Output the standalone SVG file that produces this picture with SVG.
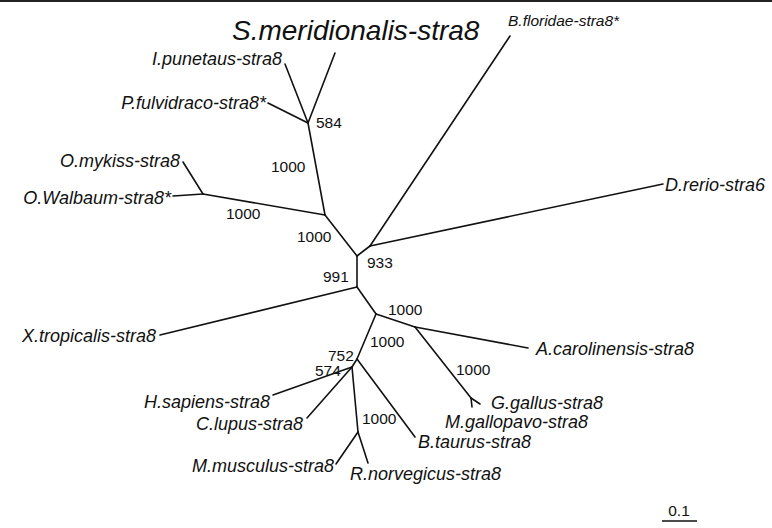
<svg xmlns="http://www.w3.org/2000/svg" width="772" height="528" viewBox="0 0 772 528">
<style>
.br{stroke:#111;stroke-width:1.6;fill:none;stroke-linecap:round;stroke-linejoin:round}
.sp{font-family:"Liberation Sans",Arial,sans-serif;font-style:italic;font-size:18px;fill:#111}
.bs{font-family:"Liberation Sans",Arial,sans-serif;font-size:15.5px;fill:#111}
</style>
<rect x="0" y="0" width="772" height="528" fill="#fff"/>
<line x1="0" y1="1" x2="772" y2="1" stroke="#222" stroke-width="2"/>
<g id="connectors">
<path class="br" d="M357,256 L357,287"/>
<path class="br" d="M357,256 L325,215"/>
<path class="br" d="M357,256 L370,246"/>
<path class="br" d="M370,246 L510,36"/>
<path class="br" d="M370,246 L663,184"/>
<path class="br" d="M325,215 L308,123"/>
<path class="br" d="M308,123 L285,64"/>
<path class="br" d="M308,123 L335,53"/>
<path class="br" d="M308,123 L268,103"/>
<path class="br" d="M325,215 L203,194"/>
<path class="br" d="M203,194 L183,162"/>
<path class="br" d="M203,194 L173,196"/>
<path class="br" d="M357,287 L160,335"/>
<path class="br" d="M357,287 L376,314"/>
<path class="br" d="M376,314 L415,327"/>
<path class="br" d="M415,327 L528,348"/>
<path class="br" d="M415,327 L471,398"/>
<path class="br" d="M471,398 L480,404"/>
<path class="br" d="M471,398 L472,407"/>
<path class="br" d="M376,314 L357,359"/>
<path class="br" d="M357,359 L415,437"/>
<path class="br" d="M357,359 L352,367"/>
<path class="br" d="M352,367 L273,395"/>
<path class="br" d="M352,367 L307,418"/>
<path class="br" d="M352,367 L358,432"/>
<path class="br" d="M358,432 L336,464"/>
<path class="br" d="M358,432 L368,463"/>
</g>
<g id="n-smeridionalis"><text class="sp" x="232" y="40" style="font-size:28px">S.meridionalis-stra8</text></g>
<g id="n-bfloridae"><text class="sp" x="508" y="26" style="font-size:15.5px">B.floridae-stra8*</text></g>
<g id="n-ipunetaus"><text class="sp" x="282" y="65" text-anchor="end">I.punetaus-stra8</text></g>
<g id="n-pfulvidraco"><text class="sp" x="266" y="109" text-anchor="end">P.fulvidraco-stra8*</text></g>
<g id="n-omykiss"><text class="sp" x="180" y="167" text-anchor="end">O.mykiss-stra8</text></g>
<g id="n-owalbaum"><text class="sp" x="171" y="204" text-anchor="end">O.Walbaum-stra8*</text></g>
<g id="n-drerio"><text class="sp" x="665" y="191">D.rerio-stra6</text></g>
<g id="n-xtropicalis"><text class="sp" x="156" y="342" text-anchor="end">X.tropicalis-stra8</text></g>
<g id="n-acarolinensis"><text class="sp" x="536" y="355">A.carolinensis-stra8</text></g>
<g id="n-ggallus"><text class="sp" x="491" y="409">G.gallus-stra8</text></g>
<g id="n-mgallopavo"><text class="sp" x="445" y="428">M.gallopavo-stra8</text></g>
<g id="n-btaurus"><text class="sp" x="418" y="448">B.taurus-stra8</text></g>
<g id="n-hsapiens"><text class="sp" x="270" y="408" text-anchor="end">H.sapiens-stra8</text></g>
<g id="n-clupus"><text class="sp" x="303" y="430" text-anchor="end">C.lupus-stra8</text></g>
<g id="n-mmusculus"><text class="sp" x="334" y="472" text-anchor="end">M.musculus-stra8</text></g>
<g id="n-rnorvegicus"><text class="sp" x="350" y="480">R.norvegicus-stra8</text></g>
<g id="bootstrap">
<text class="bs" x="316" y="128">584</text>
<text class="bs" x="271" y="172">1000</text>
<text class="bs" x="226" y="219">1000</text>
<text class="bs" x="297" y="242">1000</text>
<text class="bs" x="367" y="268">933</text>
<text class="bs" x="323" y="282">991</text>
<text class="bs" x="388" y="315">1000</text>
<text class="bs" x="370" y="347">1000</text>
<text class="bs" x="328" y="361">752</text>
<text class="bs" x="315" y="376">574</text>
<text class="bs" x="456" y="375">1000</text>
<text class="bs" x="362" y="424">1000</text>
</g>
<g id="scale">
<text class="bs" x="679" y="516" text-anchor="middle">0.1</text>
<line x1="662" y1="521" x2="697" y2="521" stroke="#111" stroke-width="1.6"/>
</g>
</svg>
